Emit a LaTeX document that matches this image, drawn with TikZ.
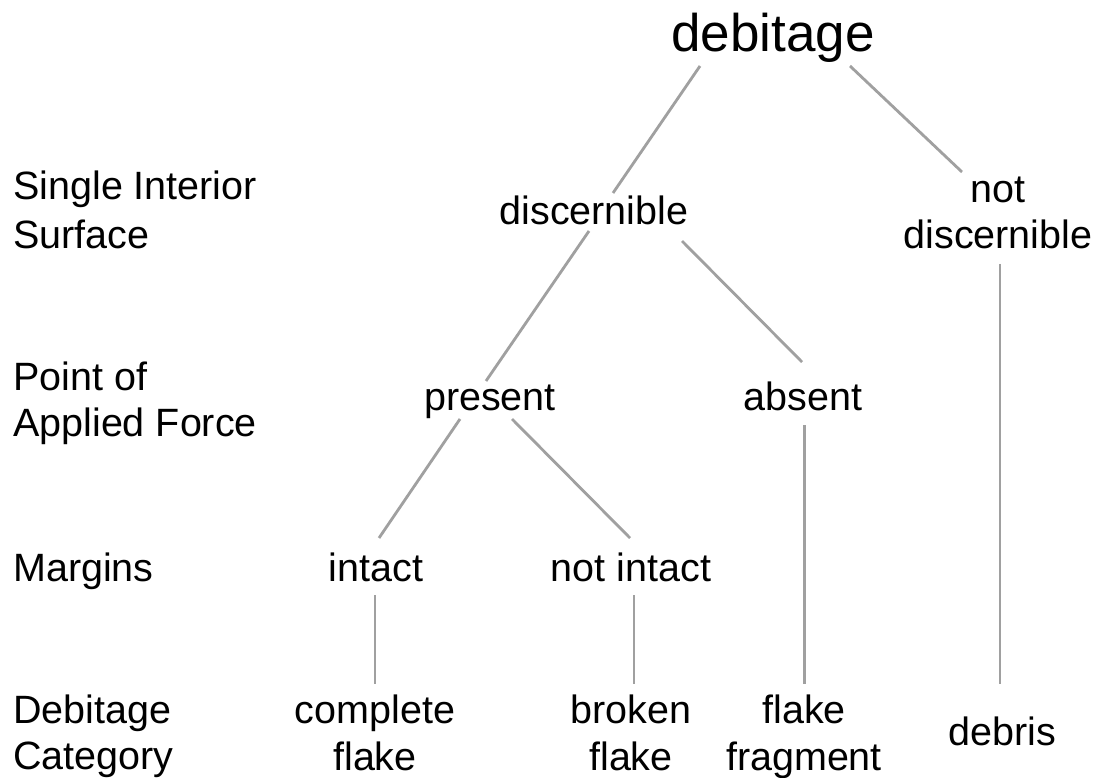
\documentclass[tikz,border=0pt]{standalone}
\usepackage{fontspec}
\setmainfont{Liberation Sans}
\definecolor{linegray}{RGB}{160,160,160}
\begin{document}
\begin{tikzpicture}[x=1pt,y=-1pt,
  lbl/.style={font=\fontsize{39.5}{46}\selectfont, inner sep=0pt, anchor=base, align=center},
  side/.style={font=\fontsize{39.5}{46}\selectfont, inner sep=0pt, anchor=base west, align=left},
  conn/.style={draw=linegray, line width=2.8pt}]
\useasboundingbox[fill=white] (0,0) rectangle (1093,778);

% level labels (base = last line)
\node[side, font=\fontsize{39.5}{49}\selectfont] (lsis) at (13,249) {Single Interior\\Surface};
\node[side] (lpaf) at (13,436) {Point of\\Applied Force};
\node[side] (lmar) at (13,581) {Margins};
\node[side] (ldeb) at (13,769) {Debitage\\Category};

% tree nodes
\node[lbl, font=\fontsize{53}{60}\selectfont] (deb) at (773,52) {debitage};
\node[lbl] (disc) at (594,225) {discernible};
\node[lbl, font=\fontsize{39.5}{47}\selectfont] (ndisc) at (998,249) {not\\discernible};
\node[lbl] (pres) at (490,410) {present};
\node[lbl] (abs) at (803,410) {absent};
\node[lbl] (intact) at (376,581) {intact};
\node[lbl] (nintact) at (631,581) {not intact};
\node[lbl, font=\fontsize{39.5}{47}\selectfont] (compl) at (375,770) {complete\\flake};
\node[lbl, font=\fontsize{39.5}{47}\selectfont] (broken) at (631,770) {broken\\flake};
\node[lbl, font=\fontsize{39.5}{47}\selectfont] (fragm) at (804,770) {flake\\fragment};
\node[lbl] (debris) at (1002,745) {debris};

% connectors
\draw[conn] ([shift={(-73,14)}]deb.base) -- ([shift={(19,-32)}]disc.base);
\draw[conn] ([shift={(77,14)}]deb.base) -- ([shift={(-36,-77)}]ndisc.base);
\draw[conn] ([shift={(-5,6)}]disc.base) -- ([shift={(-4,-29)}]pres.base);
\draw[conn] ([shift={(88,16)}]disc.base) -- ([shift={(-1,-48)}]abs.base);
\draw[conn] ([shift={(2,15)}]ndisc.base) -- ([shift={(-2,-61)}]debris.base);
\draw[conn] ([shift={(-30,9)}]pres.base) -- ([shift={(3,-43)}]intact.base);
\draw[conn] ([shift={(22,9)}]pres.base) -- ([shift={(-1,-43)}]nintact.base);
\draw[conn] ([shift={(1.5,15)}]abs.base) -- ([shift={(0.5,-86)}]fragm.base);
\draw[conn] ([shift={(-1,14)}]intact.base) -- ([shift={(0,-86)}]compl.base);
\draw[conn] ([shift={(3,14)}]nintact.base) -- ([shift={(3,-86)}]broken.base);
\end{tikzpicture}
\end{document}
